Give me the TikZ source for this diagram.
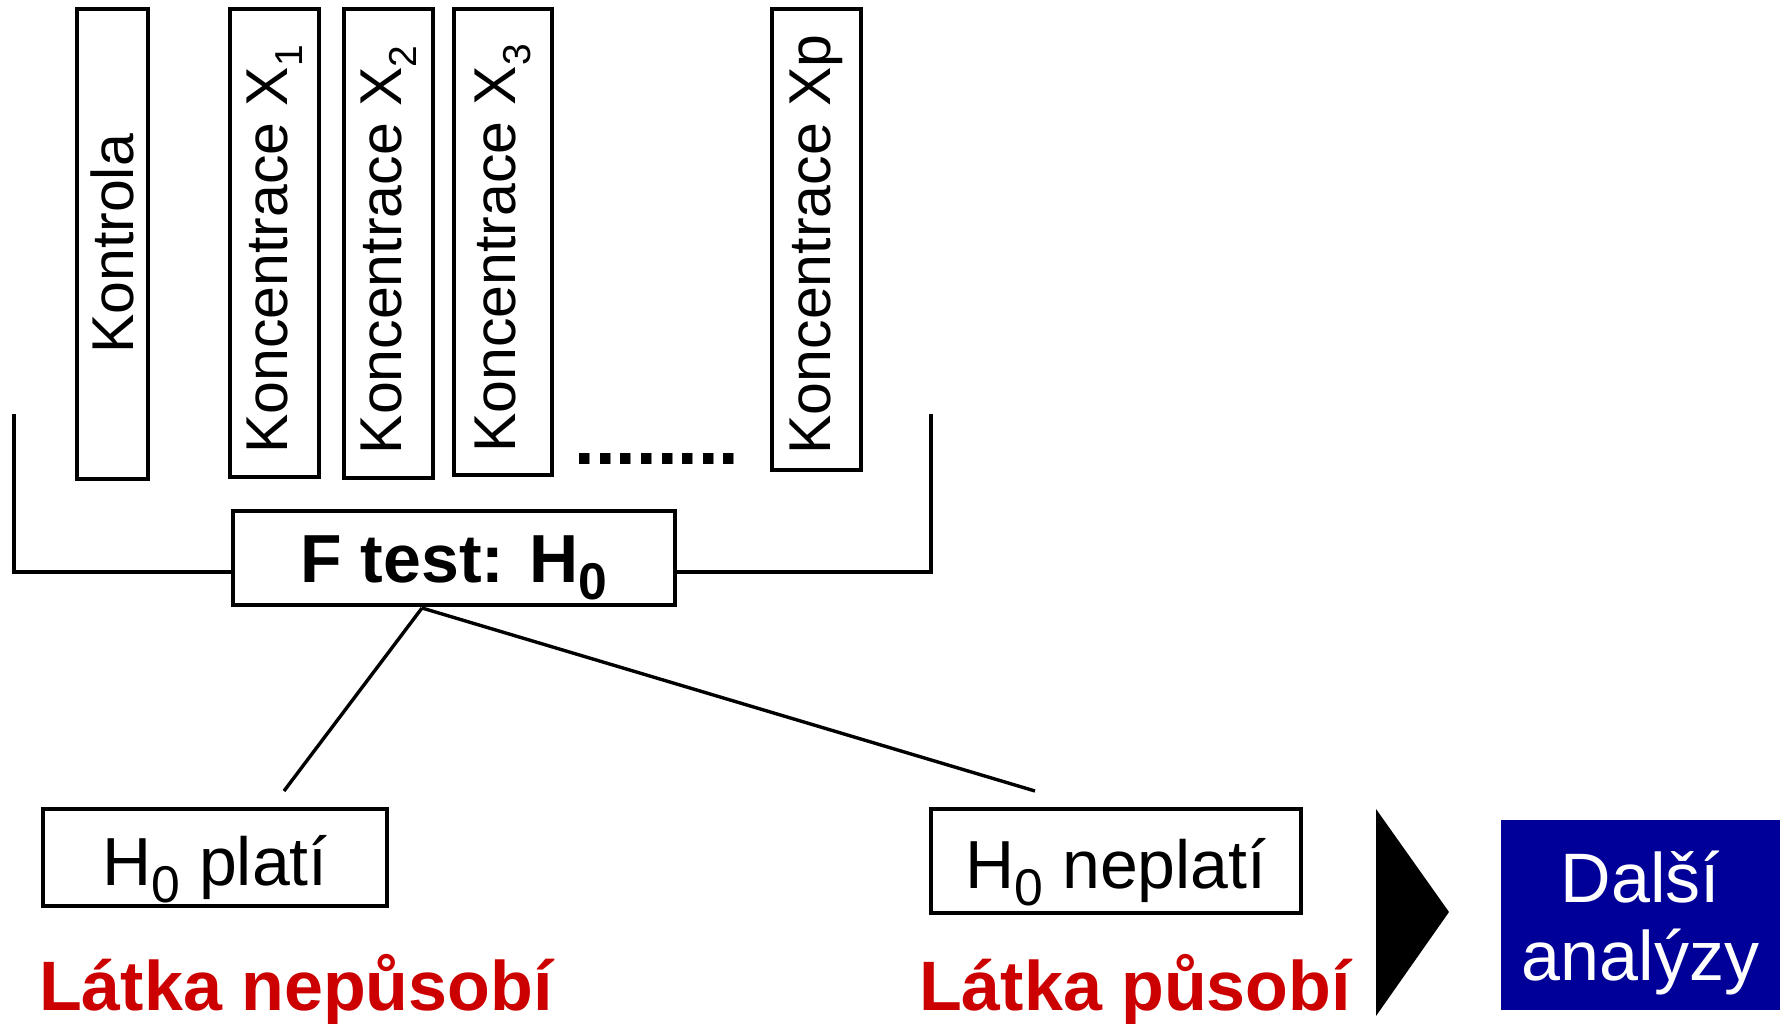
\documentclass[tikz,border=0pt]{standalone}
\usepackage{fontspec}
\setmainfont{Liberation Sans}
\usepackage{xcolor}
\definecolor{latkared}{HTML}{CC0000}
\definecolor{dalsiblue}{HTML}{000099}
\newcommand{\hsub}[2][0.76]{\raisebox{-0.25em}{\scalebox{#1}{#2}}}

\begin{document}
\begin{tikzpicture}[x=1pt, y=-1pt,
    concbox/.style={draw, line width=3.4pt, rotate=90, inner sep=0pt,
      font=\fontsize{59}{70}\selectfont},
    hbox/.style={draw, line width=3.4pt, inner sep=0pt, text depth=0pt,
      font=\fontsize{68}{80}\selectfont},
    verdict/.style={anchor=base west, inner sep=0pt, text=latkared,
      font=\fontsize{70}{80}\selectfont\bfseries}]
    \useasboundingbox (0,0) rectangle (1780,1024);

    % skupiny
    \node[concbox, minimum width=470pt, minimum height=71pt] (kontrola) at (112.5,244) {Kontrola};
    \node[concbox, minimum width=468pt, minimum height=89pt] (konc1) at (274.5,243) {Koncentrace X\hsub[0.66]{1}\kern13pt};
    \node[concbox, minimum width=469pt, minimum height=89pt] (konc2) at (388.5,243.5) {Koncentrace X\hsub[0.66]{2}\kern13pt};
    \node[concbox, minimum width=466pt, minimum height=98pt] (konc3) at (503,242) {Koncentrace X\hsub[0.66]{3}\kern13pt};
    \node[concbox, minimum width=461pt, minimum height=89pt] (koncp) at (816.5,239.5) {Koncentrace Xp\kern10pt};
    \node[anchor=base, inner sep=0pt, font=\fontsize{74}{80}\selectfont\bfseries] (dots) at (657,464) {........};

    % F test
    \node[hbox, font=\fontsize{68}{80}\selectfont\bfseries, text height=48pt, minimum width=442pt, minimum height=94pt] (ftest) at (454,558) {F test: H\hsub{0}};

    \coordinate (bracketl) at (14,414);
    \coordinate (bracketlb) at (14,572);
    \coordinate (bracketr) at (931,414);
    \coordinate (bracketrb) at (931,572);
    \draw[line width=3.4pt] (bracketl) -- (bracketlb) -- (bracketlb -| ftest.west);
    \draw[line width=3.4pt] (bracketr) -- (bracketrb) -- (bracketrb -| ftest.east);

    % vysledky
    \coordinate (split) at (422,608);
    \coordinate (leftend) at (284,791);
    \coordinate (rightend) at (1035,791);
    \draw[line width=3.4pt] (split) -- (leftend);
    \draw[line width=3.4pt] (split) -- (rightend);

    \node[hbox, text height=56pt, minimum width=344pt, minimum height=97pt] (plati) at (215,857.5) {H\hsub{0} platí};
    \node[hbox, text height=54pt, minimum width=370pt, minimum height=104pt] (neplati) at (1116,861) {H\hsub{0} neplatí};

    \node[verdict] (nepusobi) at (39,1010) {Látka nepůsobí};
    \node[verdict] (pusobi) at (919,1010) {Látka působí};

    \fill (1376,809) -- (1449,912) -- (1376,1016) -- cycle;

    \node[fill=dalsiblue, minimum width=279pt, minimum height=190pt, inner sep=0pt] (dalsi) at (1640.5,915) {};
    \node[text=white, align=center, inner sep=0pt, font=\fontsize{70}{78}\selectfont] (dalsitext) at (1640.5,923) {Další\\analýzy};
\end{tikzpicture}
\end{document}
